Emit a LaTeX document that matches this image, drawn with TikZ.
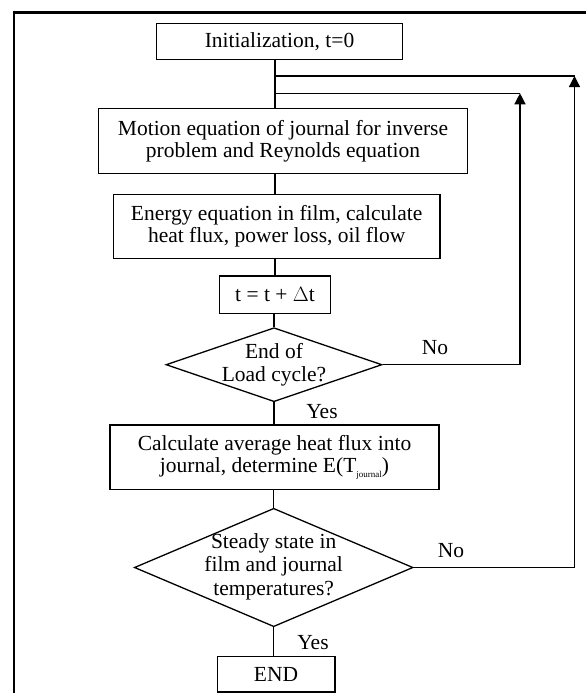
\documentclass[tikz,border=0pt]{standalone}
\usepackage{fontspec}
\setmainfont{Liberation Serif}
\usetikzlibrary{shapes.geometric,arrows.meta}
\begin{document}
\begin{tikzpicture}[x=1pt,y=-1pt,
  every node/.style={font=\fontsize{21.5}{22}\selectfont, inner sep=0pt},
  procbox/.style={draw, line width=1.3pt, align=center},
  decbox/.style={draw, diamond, line width=1.3pt, inner sep=0pt},
  dectext/.style={align=center, font=\fontsize{21.5}{23.3}\selectfont},
  conn/.style={line width=1.3pt},
  arr/.style={line width=1.3pt, -{Triangle[length=11pt,width=11pt]}},
  lbl/.style={}
]
\useasboundingbox (0,0) rectangle (586,693);
\fill[white] (0,0) rectangle (586,693);
% frame
\draw[line width=2.3pt] (14,693) -- (14,12.5) -- (586,12.5);

\node[procbox, minimum width=245.6pt, minimum height=36pt] (init) at (279.5,41.3) {Initialization, t=0};
\node[procbox, minimum width=369.4pt, minimum height=65pt] (mot) at (283,140.8) {Motion equation of journal for inverse\\problem and Reynolds equation};
\node[procbox, minimum width=326.7pt, minimum height=64pt] (ene) at (276.7,226.3) {Energy equation in film, calculate\\heat flux, power loss, oil flow};
\node[procbox, minimum width=111.4pt, minimum height=37.3pt] (tst) at (275,294.7) {t = t + $\Delta$t};
\node[decbox, minimum width=216pt, minimum height=74pt] (d1) at (274,364.7) {};
\node[dectext] (d1t) at (274,364.5) {End of\\Load cycle?};
\node[procbox, minimum width=329pt, minimum height=64.3pt] (calc) at (274.5,457.2) {Calculate average heat flux into\\journal, determine E(T\raisebox{-0.45ex}{\fontsize{9}{9}\selectfont journal})};
\node[decbox, minimum width=278.7pt, minimum height=118.4pt] (d2) at (273.7,567.5) {};
\node[dectext] (d2t) at (273.7,566.7) {Steady state in\\film and journal\\temperatures?};
\node[procbox, minimum width=117.7pt, minimum height=35.3pt] (endb) at (276,674.4) {END};

\coordinate (ax) at (275,0);
\coordinate (m1) at (275,76);
\coordinate (m2) at (275,93.3);
\coordinate (r1) at (520,93.3);
\coordinate (r2) at (574.5,76);

% main flow
\draw[conn] (init.south -| ax) -- (mot.north -| ax);
\draw[conn] (mot.south -| ax) -- (ene.north -| ax);
\draw[conn] (ene.south -| ax) -- (tst.north -| ax);
\draw[conn] (tst.south -| d1.north) -- (d1.north);
\draw[conn] (d1.south) -- (calc.north -| d1.south);
\draw[conn] (calc.south -| d2.north) -- (d2.north);
\draw[conn] (d2.south) -- (endb.north -| d2.south);

% loops
\draw[conn] (m1) -- (r2);
\draw[conn] (m2) -- (r1);
\draw[arr] (d1.east) -| (r1);
\draw[arr] (d2.east) -| (r2);

% labels
\node[lbl] (no1) at (435,348) {No};
\node[lbl] (no2) at (451,551) {No};
\node[lbl] (yes1) at (322,412) {Yes};
\node[lbl] (yes2) at (313,643) {Yes};
\end{tikzpicture}
\end{document}
